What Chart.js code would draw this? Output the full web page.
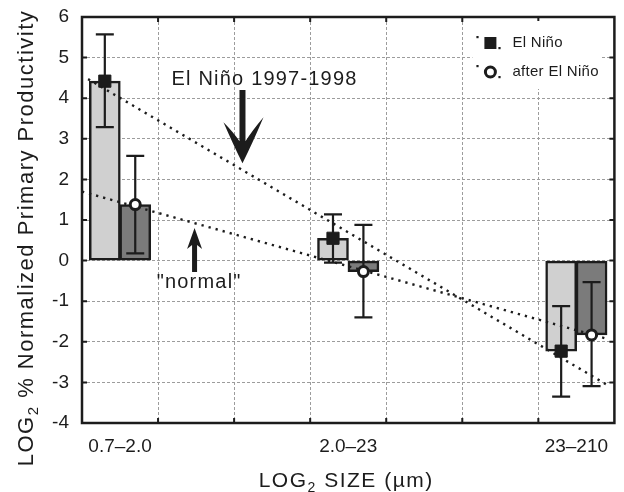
<!DOCTYPE html>
<html>
<head>
<meta charset="utf-8">
<script src="https://cdn.jsdelivr.net/npm/chart.js@4.4.1/dist/chart.umd.min.js"></script>
<style>
  html, body { margin: 0; padding: 0; background: #fff; }
  #wrap { width: 624px; height: 492px; position: relative; }
</style>
</head>
<body>
<div id="wrap"><canvas id="chart"></canvas></div>
<script>
// size classes, LOG2 SIZE (µm)
const categories = ['0.7–2.0', '2.0–23', '23–210'];
const catPos = [0.5, 3.5, 6.5];

// LOG2 % normalized primary productivity
const ninoValues = [4.42, 0.55, -2.23];
const afterValues = [1.38, -0.27, -1.83];

// error bar ends
const ninoHigh = [5.57, 1.14, -1.12];
const ninoLow = [3.29, -0.05, -3.35];
const afterHigh = [2.58, 0.88, -0.53];
const afterLow = [0.18, -1.40, -3.09];

// dotted regression lines (end points)
const ninoTrendX = [0.08, 6.94];
const ninoTrendY = [4.47, -3.10];
const normalTrendX = [0.0, 6.91];
const normalTrendY = [1.70, -1.93];

const yMin = -4, yMax = 6;
const xMin = 0, xMax = 7;

const pairOffset = 0.2;   // bar centre offset from the class centre
const FONT = '"Liberation Sans", Arial, Helvetica, sans-serif';
const INK = '#1c1c1c';

Chart.defaults.font.family = FONT;
Chart.defaults.color = INK;

function pts(xs, ys) {
    return xs.map((v, i) => ({ x: v, y: ys[i] }));
}

// text with a subscript part, drawn left to right from x
function drawParts(ctx, parts, x, y) {
    parts.forEach(p => {
        ctx.font = p.font;
        ctx.letterSpacing = p.ls || '0px';
        ctx.fillText(p.t, x, y + (p.dy || 0));
        x += ctx.measureText(p.t).width;
    });
}
function partsWidth(ctx, parts) {
    let w = 0;
    parts.forEach(p => {
        ctx.font = p.font;
        ctx.letterSpacing = p.ls || '0px';
        w += ctx.measureText(p.t).width;
    });
    return w;
}

function drawErrorBars(chart) {
    const { ctx, scales: { x, y } } = chart;
    ctx.save();
    ctx.strokeStyle = INK;
    ctx.lineWidth = 2.2;
    const sets = [[-pairOffset, ninoLow, ninoHigh], [pairOffset, afterLow, afterHigh]];
    sets.forEach(([off, lo, hi]) => {
        catPos.forEach((p, i) => {
            const px = x.getPixelForValue(p + off);
            const top = y.getPixelForValue(hi[i]);
            const bot = y.getPixelForValue(lo[i]);
            ctx.beginPath();
            ctx.moveTo(px, top); ctx.lineTo(px, bot);
            ctx.moveTo(px - 9, top); ctx.lineTo(px + 9, top);
            ctx.moveTo(px - 9, bot); ctx.lineTo(px + 9, bot);
            ctx.stroke();
        });
    });
    ctx.restore();
}

let errDone = false;
const decor = {
    id: 'decor',
    beforeDatasetsDraw() { errDone = false; },
    beforeDatasetDraw(chart, args) {
        if (!errDone && chart.data.datasets[args.index].isMarker) {
            drawErrorBars(chart);
            errDone = true;
        }
    },
    afterDraw(chart) {
        const { ctx, chartArea: a, scales: { x, y } } = chart;
        ctx.save();

        // frame + inward ticks
        ctx.strokeStyle = INK;
        ctx.lineWidth = 2.5;
        ctx.strokeRect(a.left, a.top, a.right - a.left, a.bottom - a.top);
        ctx.lineWidth = 2;
        ctx.beginPath();
        x.ticks.forEach(t => {
            if (!Number.isInteger(t.value) || t.value === xMin || t.value === xMax) return;
            const px = x.getPixelForValue(t.value);
            ctx.moveTo(px, a.top); ctx.lineTo(px, a.top + 5);
            ctx.moveTo(px, a.bottom); ctx.lineTo(px, a.bottom - 5);
        });
        y.ticks.forEach(t => {
            if (t.value === yMin || t.value === yMax) return;
            const py = y.getPixelForValue(t.value);
            ctx.moveTo(a.left, py); ctx.lineTo(a.left + 5, py);
            ctx.moveTo(a.right, py); ctx.lineTo(a.right - 5, py);
        });
        ctx.stroke();

        // big arrow "El Niño 1997-1998"
        ctx.fillStyle = INK;
        let tx = x.getPixelForValue(2.11), ty = y.getPixelForValue(2.40);
        let topY = y.getPixelForValue(4.20);
        ctx.beginPath();
        ctx.moveTo(tx, ty);
        ctx.quadraticCurveTo(tx - 9, ty - 18, tx - 19, ty - 41);
        ctx.quadraticCurveTo(tx - 9, ty - 31, tx - 3, ty - 22);
        ctx.lineTo(tx - 3, topY);
        ctx.lineTo(tx + 3, topY);
        ctx.lineTo(tx + 3, ty - 22);
        ctx.quadraticCurveTo(tx + 10, ty - 33, tx + 21, ty - 46);
        ctx.quadraticCurveTo(tx + 10, ty - 20, tx, ty);
        ctx.closePath();
        ctx.fill();

        // small arrow "normal"
        tx = x.getPixelForValue(1.48); ty = y.getPixelForValue(0.80);
        const by = y.getPixelForValue(-0.28);
        ctx.beginPath();
        ctx.moveTo(tx, ty);
        ctx.lineTo(tx + 7.5, ty + 21);
        ctx.lineTo(tx + 2.5, ty + 17);
        ctx.lineTo(tx + 2.5, by);
        ctx.lineTo(tx - 2.5, by);
        ctx.lineTo(tx - 2.5, ty + 17);
        ctx.lineTo(tx - 7.5, ty + 21);
        ctx.closePath();
        ctx.fill();

        // annotation texts
        ctx.textBaseline = 'middle';
        ctx.textAlign = 'center';
        ctx.font = '20px ' + FONT;
        ctx.letterSpacing = '1.2px';
        ctx.fillText('El Niño 1997-1998', x.getPixelForValue(2.40), y.getPixelForValue(4.47));
        ctx.fillText('"normal"', x.getPixelForValue(1.54), y.getPixelForValue(-0.55));

        // legend
        const lx = a.right - 142, ly = a.top + 4;
        ctx.fillStyle = '#fff';
        ctx.fillRect(lx, ly, 128, 68);
        const rows = [{ label: 'El Niño', marker: 'rect', cy: ly + 22 }, { label: 'after El Niño', marker: 'circle', cy: ly + 51 }];
        rows.forEach(r => {
            const mx = lx + 18;
            ctx.fillStyle = INK;
            ctx.fillRect(mx - 14, r.cy - 7, 2.2, 2.2);
            ctx.fillRect(mx + 8, r.cy + 4, 2.2, 2.2);
            if (r.marker === 'rect') {
                ctx.fillRect(mx - 6, r.cy - 6, 12, 12);
            } else {
                ctx.beginPath();
                ctx.arc(mx, r.cy, 5, 0, Math.PI * 2);
                ctx.fillStyle = '#fff';
                ctx.fill();
                ctx.lineWidth = 3;
                ctx.strokeStyle = INK;
                ctx.stroke();
            }
            ctx.fillStyle = INK;
            ctx.textAlign = 'left';
            ctx.font = '15px ' + FONT;
            ctx.letterSpacing = '0.3px';
            ctx.fillText(r.label, lx + 40, r.cy);
        });

        // axis titles
        ctx.fillStyle = INK;
        ctx.textBaseline = 'alphabetic';
        ctx.textAlign = 'left';
        const xt = [
            { t: 'LOG', font: '21px ' + FONT, ls: '1.5px' },
            { t: '2', font: '14px ' + FONT, ls: '1.5px', dy: 5 },
            { t: ' SIZE (µm)', font: '21px ' + FONT, ls: '1.5px' }
        ];
        const xw = partsWidth(ctx, xt);
        drawParts(ctx, xt, (a.left + a.right) / 2 - 2 - xw / 2, a.bottom + 64);

        const yt = [
            { t: 'LOG', font: '22px ' + FONT, ls: '1.5px' },
            { t: '2', font: '15px ' + FONT, ls: '1.5px', dy: 5 },
            { t: ' % Normalized Primary Productivity', font: '22px ' + FONT, ls: '1.5px' }
        ];
        const yw = partsWidth(ctx, yt);
        ctx.translate(33, (a.top + a.bottom) / 2 + 18);
        ctx.rotate(-Math.PI / 2);
        drawParts(ctx, yt, -yw / 2, 0);

        ctx.restore();
    }
};

new Chart(document.getElementById('chart'), {
    type: 'bar',
    data: {
        datasets: [
            {
                type: 'line',
                label: 'El Niño',
                isMarker: true,
                order: 0,
                data: pts(catPos.map(p => p - pairOffset), ninoValues),
                showLine: false,
                pointStyle: 'rect',
                pointRadius: 8.6,
                pointBackgroundColor: INK,
                pointBorderColor: INK,
                pointBorderWidth: 1
            },
            {
                type: 'line',
                label: 'after El Niño',
                isMarker: true,
                order: 0,
                data: pts(catPos.map(p => p + pairOffset), afterValues),
                showLine: false,
                pointStyle: 'circle',
                pointRadius: 5,
                pointBackgroundColor: '#fff',
                pointBorderColor: INK,
                pointBorderWidth: 3
            },
            {
                type: 'line',
                label: 'El Niño trend',
                order: 1,
                data: pts(ninoTrendX, ninoTrendY),
                borderColor: INK,
                borderWidth: 2.4,
                borderDash: [2.3, 5],
                pointRadius: 0,
                fill: false
            },
            {
                type: 'line',
                label: 'normal trend',
                order: 1,
                data: pts(normalTrendX, normalTrendY),
                borderColor: INK,
                borderWidth: 2.4,
                borderDash: [2.3, 5],
                pointRadius: 0,
                fill: false
            },
            {
                label: 'El Niño bars',
                order: 2,
                data: pts(catPos.map(p => p - pairOffset), ninoValues),
                backgroundColor: '#d0d0d0',
                borderColor: INK,
                borderWidth: 2.5,
                borderSkipped: false,
                grouped: false,
                barThickness: 31
            },
            {
                label: 'after El Niño bars',
                order: 2,
                data: pts(catPos.map(p => p + pairOffset), afterValues),
                backgroundColor: '#7b7b7b',
                borderColor: INK,
                borderWidth: 2.5,
                borderSkipped: false,
                grouped: false,
                barThickness: 31
            }
        ]
    },
    options: {
        responsive: true,
        maintainAspectRatio: false,
        animation: false,
        layout: { padding: { top: 17, right: 2, bottom: 0, left: 0 } },
        plugins: {
            legend: { display: false },
            tooltip: { enabled: false }
        },
        scales: {
            x: {
                type: 'linear',
                min: xMin,
                max: xMax,
                offset: false,
                afterBuildTicks: scale => {
                    const t = [];
                    for (let v = xMin; v <= xMax; v += 0.5) t.push({ value: v });
                    scale.ticks = t;
                },
                afterFit: scale => {
                    scale.height = 69;
                    scale.paddingLeft = 0;
                    scale.paddingRight = 0;
                },
                grid: {
                    offset: false,
                    drawTicks: false,
                    color: ctx => (ctx.tick && Number.isInteger(ctx.tick.value)) ? '#9c9c9c' : 'rgba(0,0,0,0)',
                    lineWidth: 1
                },
                border: { display: false, dash: [3, 2] },
                ticks: {
                    autoSkip: false,
                    maxRotation: 0,
                    padding: 12,
                    font: { size: 19 },
                    color: INK,
                    callback: v => {
                        const i = catPos.findIndex(p => Math.abs(p - v) < 1e-6);
                        return i >= 0 ? categories[i] : '';
                    }
                }
            },
            y: {
                min: yMin,
                max: yMax,
                afterFit: scale => {
                    scale.width = 82;
                    scale.paddingTop = 0;
                    scale.paddingBottom = 0;
                },
                grid: { drawTicks: false, color: '#9c9c9c', lineWidth: 1 },
                border: { display: false, dash: [3, 2] },
                ticks: {
                    stepSize: 1,
                    padding: 13,
                    font: { size: 19 },
                    color: INK
                }
            }
        }
    },
    plugins: [decor]
});
</script>
</body>
</html>
